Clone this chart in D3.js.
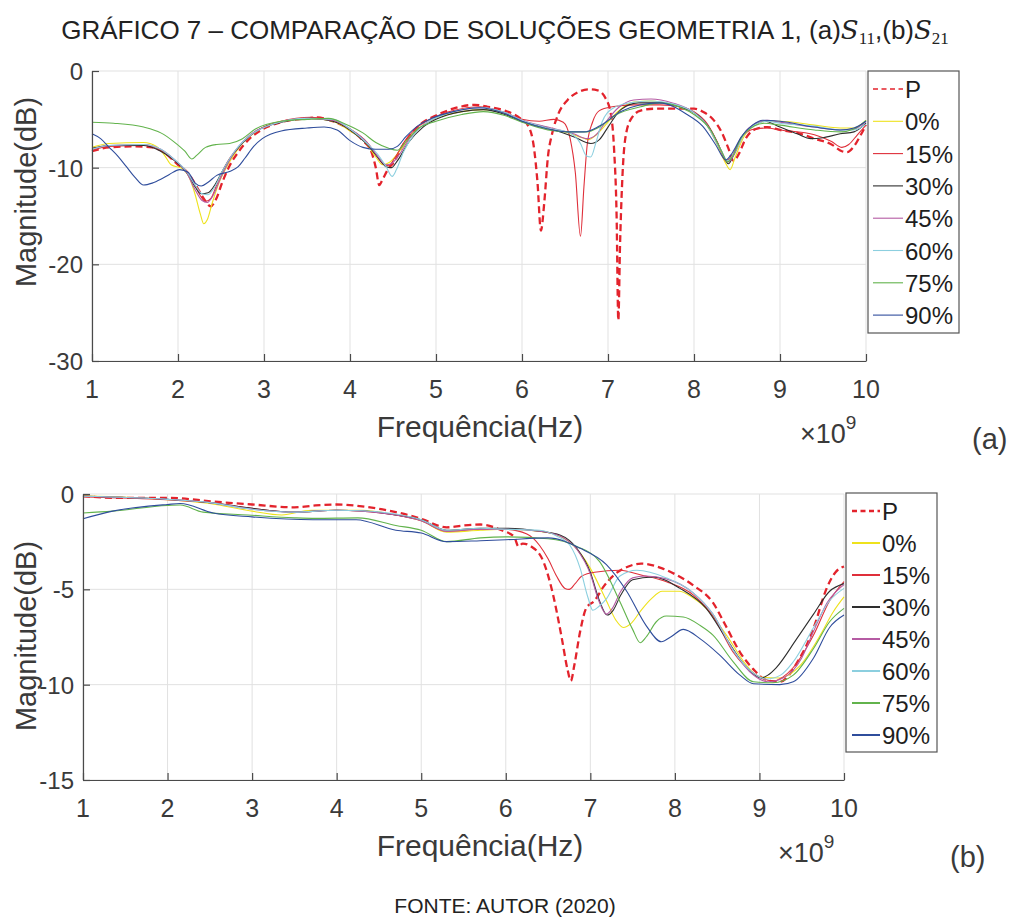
<!DOCTYPE html>
<html>
<head>
<meta charset="utf-8">
<script src="https://cdn.jsdelivr.net/npm/d3@7"></script>
<style>
  body { margin: 0; background: #fff; }
  svg { display: block; }
  text { font-family: "Liberation Sans", Arial, Helvetica, sans-serif; }
</style>
</head>
<body>
<svg id="fig" width="1011" height="922"></svg>
<script>
// Axis ticks
const freqTicks = [1, 2, 3, 4, 5, 6, 7, 8, 9, 10];   // GHz (x 10^9 Hz)
const s11Ticks = [0, -10, -20, -30];
const s21Ticks = [0, -5, -10, -15];

// Legend entries and line colours
const legendLabels = ["P", "0%", "15%", "30%", "45%", "60%", "75%", "90%"];
const lineColors = ["#e3232c", "#eee21c", "#df2f3a", "#2e2e2e", "#b55ba3", "#8ccfdf", "#62b34c", "#2f4d9c"];

// ---- (a) S11 magnitude, [frequency GHz, dB] ----
const s11P = [[1.0,-8.3],[1.2,-7.9],[1.5,-7.8],[1.7,-7.9],[1.85,-8.5],[2.0,-9.7],[2.12,-10.6],[2.22,-12.0],[2.3,-13.2],[2.38,-14.0],[2.44,-13.3],[2.52,-11.4],[2.6,-9.8],[2.7,-8.4],[2.82,-7.1],[2.95,-6.2],[3.2,-5.3],[3.5,-4.9],[3.62,-4.8],[3.8,-5.2],[4.0,-6.1],[4.15,-7.2],[4.25,-8.4],[4.3,-10.0],[4.34,-11.8],[4.38,-11.2],[4.44,-10.2],[4.52,-9.3],[4.6,-7.9],[4.72,-6.4],[4.85,-5.3],[5.0,-4.6],[5.2,-3.9],[5.45,-3.5],[5.6,-3.7],[5.8,-4.1],[5.98,-4.9],[6.08,-5.8],[6.14,-8.0],[6.18,-11.5],[6.22,-16.5],[6.26,-13.5],[6.3,-9.0],[6.35,-6.5],[6.42,-4.5],[6.53,-3.0],[6.65,-2.2],[6.78,-1.9],[6.88,-2.0],[6.97,-2.8],[7.03,-4.3],[7.07,-8.0],[7.1,-15.0],[7.12,-25.8],[7.14,-18.0],[7.17,-10.5],[7.21,-6.5],[7.28,-4.8],[7.38,-4.1],[7.55,-3.9],[8.0,-3.9],[8.12,-4.3],[8.22,-5.0],[8.32,-6.3],[8.4,-8.0],[8.46,-9.3],[8.52,-8.6],[8.6,-7.0],[8.72,-6.0],[8.85,-5.8],[9.0,-6.1],[9.2,-6.4],[9.4,-7.0],[9.6,-7.6],[9.72,-8.3],[9.78,-8.4],[9.86,-7.8],[9.94,-6.6],[10.0,-5.6]];
const s11_0 = [[1.0,-7.9],[1.2,-7.5],[1.6,-7.4],[1.75,-7.8],[1.85,-8.8],[1.92,-9.7],[2.05,-10.1],[2.14,-11.2],[2.2,-12.8],[2.26,-14.8],[2.3,-15.8],[2.34,-15.4],[2.4,-13.6],[2.48,-11.5],[2.58,-9.7],[2.72,-7.8],[2.9,-6.3],[3.2,-5.2],[3.55,-4.9],[3.8,-5.2],[4.0,-6.2],[4.2,-7.6],[4.3,-8.9],[4.38,-9.7],[4.45,-9.5],[4.55,-8.6],[4.7,-6.8],[4.85,-5.6],[5.0,-4.9],[5.3,-4.2],[5.55,-4.0],[5.8,-4.4],[6.0,-5.2],[6.25,-5.9],[6.5,-6.3],[6.7,-6.9],[6.78,-7.1],[6.85,-6.7],[6.95,-5.8],[7.1,-4.3],[7.3,-3.2],[7.5,-3.1],[7.75,-3.5],[8.0,-4.3],[8.15,-5.6],[8.28,-7.8],[8.36,-9.4],[8.42,-10.2],[8.48,-8.9],[8.58,-6.8],[8.7,-5.6],[8.85,-5.2],[9.0,-5.2],[9.4,-5.6],[9.7,-5.9],[9.85,-5.9],[10.0,-5.1]];
const s11_15 = [[1.0,-8.2],[1.2,-7.8],[1.6,-7.7],[1.8,-8.2],[1.95,-9.2],[2.08,-10.2],[2.18,-11.5],[2.26,-12.9],[2.32,-13.5],[2.38,-13.2],[2.45,-11.8],[2.55,-9.8],[2.7,-7.9],[2.9,-6.3],[3.2,-5.2],[3.55,-4.8],[3.8,-5.1],[4.0,-6.0],[4.2,-7.4],[4.3,-8.6],[4.38,-9.6],[4.45,-9.8],[4.52,-9.0],[4.65,-7.1],[4.8,-5.7],[5.0,-4.7],[5.3,-3.9],[5.5,-3.7],[5.8,-4.3],[6.0,-5.0],[6.2,-5.2],[6.37,-5.0],[6.48,-5.3],[6.56,-7.0],[6.62,-10.5],[6.68,-17.1],[6.72,-12.0],[6.76,-7.5],[6.82,-5.3],[6.9,-4.1],[7.05,-3.7],[7.3,-3.5],[7.6,-3.5],[7.85,-3.7],[8.0,-4.2],[8.15,-5.4],[8.28,-7.5],[8.37,-9.3],[8.44,-8.8],[8.55,-6.9],[8.7,-6.0],[8.85,-5.9],[9.0,-6.1],[9.4,-6.6],[9.6,-7.3],[9.72,-7.9],[9.8,-7.6],[9.9,-6.6],[10.0,-5.6]];
const s11_30 = [[1.0,-8.0],[1.2,-7.7],[1.6,-7.7],[1.8,-8.3],[1.95,-9.2],[2.1,-10.5],[2.2,-12.0],[2.27,-12.7],[2.35,-12.6],[2.42,-11.9],[2.52,-10.3],[2.65,-8.5],[2.85,-6.6],[3.2,-5.3],[3.55,-4.9],[3.8,-5.2],[4.0,-6.1],[4.2,-7.6],[4.32,-8.9],[4.42,-9.9],[4.48,-10.0],[4.55,-9.3],[4.68,-7.4],[4.85,-5.8],[5.0,-5.0],[5.3,-4.2],[5.55,-4.0],[5.8,-4.5],[6.0,-5.2],[6.3,-5.9],[6.6,-6.8],[6.8,-7.5],[6.9,-7.1],[7.0,-5.8],[7.15,-4.0],[7.35,-3.3],[7.6,-3.3],[7.9,-3.9],[8.05,-4.6],[8.2,-6.2],[8.32,-8.3],[8.4,-9.6],[8.46,-8.7],[8.55,-6.9],[8.7,-5.6],[8.82,-5.2],[9.0,-5.8],[9.2,-6.5],[9.36,-7.0],[9.5,-6.9],[9.7,-6.5],[9.86,-6.3],[10.0,-5.4]];
const s11_45 = [[1.0,-8.1],[1.2,-7.7],[1.6,-7.6],[1.8,-8.1],[1.95,-9.1],[2.1,-10.5],[2.2,-12.3],[2.28,-13.4],[2.34,-13.6],[2.4,-13.0],[2.5,-11.0],[2.62,-8.9],[2.8,-6.9],[3.1,-5.5],[3.5,-4.9],[3.8,-5.1],[4.0,-6.0],[4.2,-7.4],[4.32,-8.8],[4.42,-9.7],[4.48,-9.6],[4.56,-8.8],[4.7,-6.9],[4.85,-5.6],[5.0,-4.8],[5.3,-4.0],[5.55,-3.8],[5.8,-4.3],[6.0,-5.1],[6.3,-5.8],[6.6,-6.5],[6.76,-7.0],[6.86,-6.6],[6.98,-5.2],[7.12,-3.8],[7.3,-3.0],[7.5,-2.9],[7.75,-3.3],[8.0,-4.3],[8.15,-5.6],[8.3,-8.0],[8.4,-9.4],[8.47,-8.6],[8.58,-6.5],[8.72,-5.4],[8.85,-5.1],[9.0,-5.3],[9.4,-5.8],[9.7,-6.1],[9.86,-6.0],[10.0,-5.2]];
const s11_60 = [[1.0,-8.1],[1.2,-7.7],[1.6,-7.6],[1.8,-8.1],[1.95,-9.1],[2.1,-10.4],[2.2,-11.8],[2.28,-12.7],[2.35,-12.8],[2.42,-12.1],[2.52,-10.3],[2.65,-8.4],[2.85,-6.6],[3.1,-5.5],[3.5,-4.9],[3.8,-5.0],[4.0,-6.0],[4.2,-7.5],[4.32,-8.6],[4.42,-9.9],[4.49,-10.9],[4.54,-10.2],[4.62,-8.4],[4.75,-6.5],[4.9,-5.3],[5.1,-4.5],[5.35,-3.9],[5.55,-3.8],[5.8,-4.3],[6.0,-5.1],[6.3,-5.9],[6.55,-6.4],[6.68,-7.5],[6.75,-8.8],[6.8,-8.9],[6.86,-7.4],[6.93,-5.3],[7.05,-3.9],[7.25,-3.3],[7.5,-3.1],[7.75,-3.4],[8.0,-4.3],[8.15,-5.6],[8.3,-8.0],[8.39,-9.3],[8.46,-8.6],[8.58,-6.6],[8.72,-5.5],[8.85,-5.2],[9.0,-5.4],[9.4,-5.7],[9.7,-6.1],[9.86,-6.1],[10.0,-5.5]];
const s11_75 = [[1.0,-5.3],[1.25,-5.4],[1.6,-5.8],[1.8,-6.4],[1.95,-7.3],[2.08,-8.3],[2.16,-9.1],[2.22,-8.7],[2.32,-7.9],[2.45,-7.6],[2.6,-7.5],[2.75,-7.0],[2.9,-6.0],[3.2,-5.2],[3.5,-5.0],[3.75,-4.9],[3.95,-5.5],[4.15,-6.4],[4.3,-7.4],[4.45,-8.0],[4.55,-8.2],[4.65,-7.3],[4.8,-5.9],[5.0,-5.2],[5.3,-4.5],[5.55,-4.2],[5.8,-4.6],[6.0,-5.3],[6.3,-6.1],[6.55,-6.3],[6.75,-6.3],[6.9,-5.8],[7.1,-4.5],[7.38,-3.7],[7.6,-3.3],[7.85,-3.8],[8.0,-4.5],[8.2,-6.2],[8.32,-8.3],[8.39,-9.4],[8.45,-8.8],[8.55,-6.9],[8.7,-5.7],[8.82,-5.4],[9.0,-5.6],[9.4,-6.1],[9.7,-6.3],[9.86,-6.0],[10.0,-5.1]];
const s11_90 = [[1.0,-6.5],[1.1,-7.0],[1.2,-7.9],[1.3,-8.8],[1.4,-9.9],[1.5,-11.0],[1.6,-11.8],[1.7,-11.6],[1.8,-11.2],[1.9,-10.7],[2.02,-10.2],[2.12,-10.5],[2.2,-11.6],[2.27,-11.9],[2.35,-11.5],[2.45,-10.8],[2.6,-10.4],[2.7,-9.9],[2.78,-9.0],[2.88,-7.8],[2.98,-7.0],[3.2,-6.2],[3.5,-5.9],[3.7,-5.8],[3.85,-6.1],[4.0,-7.2],[4.15,-7.9],[4.3,-8.1],[4.45,-8.1],[4.55,-7.8],[4.65,-6.8],[4.8,-5.6],[4.95,-4.9],[5.2,-4.2],[5.5,-3.8],[5.8,-4.4],[6.0,-5.2],[6.3,-6.0],[6.55,-6.3],[6.72,-6.3],[6.9,-5.7],[7.15,-4.2],[7.38,-3.5],[7.6,-3.3],[7.92,-4.5],[8.1,-5.7],[8.25,-7.6],[8.37,-9.2],[8.45,-8.4],[8.55,-6.8],[8.68,-5.6],[8.8,-5.1],[9.0,-5.2],[9.4,-5.8],[9.7,-6.1],[9.86,-5.9],[10.0,-5.2]];

// ---- (b) S21 magnitude, [frequency GHz, dB] ----
const s21P = [[1.0,-0.1],[1.35,-0.2],[2.0,-0.2],[2.55,-0.4],[3.0,-0.55],[3.5,-0.7],[3.75,-0.6],[4.0,-0.55],[4.3,-0.65],[4.7,-0.95],[5.0,-1.3],[5.3,-1.75],[5.5,-1.65],[5.7,-1.6],[5.95,-1.9],[6.1,-2.25],[6.15,-2.75],[6.2,-2.6],[6.3,-2.75],[6.45,-3.6],[6.56,-5.3],[6.66,-7.5],[6.73,-9.2],[6.77,-9.8],[6.81,-9.0],[6.88,-7.2],[6.95,-6.0],[7.05,-5.6],[7.15,-4.9],[7.28,-4.25],[7.45,-3.8],[7.6,-3.65],[7.85,-3.9],[8.0,-4.2],[8.22,-4.8],[8.45,-5.7],[8.6,-6.9],[8.77,-8.3],[8.93,-9.2],[9.08,-9.75],[9.24,-9.85],[9.35,-9.5],[9.45,-8.8],[9.55,-8.0],[9.65,-6.9],[9.79,-5.0],[9.9,-4.1],[10.0,-3.8]];
const s21_0 = [[1.0,-0.1],[2.0,-0.3],[2.5,-0.5],[3.0,-0.9],[3.35,-1.1],[3.7,-0.85],[4.3,-0.85],[4.7,-1.1],[5.0,-1.4],[5.3,-2.0],[5.7,-1.9],[6.0,-1.85],[6.48,-2.0],[6.8,-2.7],[7.0,-3.9],[7.19,-5.6],[7.3,-6.6],[7.39,-7.0],[7.48,-6.8],[7.6,-6.1],[7.72,-5.5],[7.85,-5.1],[8.05,-5.1],[8.2,-5.4],[8.37,-6.0],[8.61,-7.4],[8.85,-9.0],[9.0,-9.6],[9.24,-9.65],[9.48,-9.0],[9.72,-7.4],[9.87,-6.2],[10.0,-5.4]];
const s21_15 = [[1.0,-0.15],[2.0,-0.3],[2.5,-0.45],[3.0,-0.75],[3.5,-0.95],[4.0,-0.85],[4.3,-0.9],[4.7,-1.1],[5.0,-1.4],[5.3,-1.95],[5.7,-1.85],[6.0,-1.85],[6.25,-2.1],[6.4,-2.7],[6.5,-3.4],[6.6,-4.3],[6.7,-4.95],[6.75,-5.0],[6.82,-4.7],[6.9,-4.3],[7.05,-4.1],[7.35,-4.0],[7.6,-4.25],[7.9,-4.6],[8.22,-5.3],[8.45,-6.4],[8.69,-8.3],[8.93,-9.4],[9.16,-9.8],[9.4,-9.1],[9.64,-7.4],[9.83,-5.6],[10.0,-4.6]];
const s21_30 = [[1.0,-0.12],[2.0,-0.28],[2.5,-0.45],[3.0,-0.75],[3.5,-0.95],[4.0,-0.85],[4.3,-0.88],[4.7,-1.1],[5.0,-1.35],[5.3,-1.9],[5.7,-1.8],[6.0,-1.8],[6.4,-1.95],[6.64,-2.15],[6.84,-2.85],[7.0,-4.1],[7.1,-5.5],[7.2,-6.35],[7.27,-6.1],[7.36,-5.3],[7.5,-4.5],[7.74,-4.35],[8.06,-4.95],[8.37,-6.0],[8.61,-7.6],[8.85,-9.1],[9.02,-9.65],[9.1,-9.5],[9.2,-9.1],[9.44,-7.6],[9.64,-6.3],[9.83,-5.1],[10.0,-4.7]];
const s21_45 = [[1.0,-0.12],[2.0,-0.28],[2.5,-0.45],[3.0,-0.8],[3.5,-0.95],[4.0,-0.85],[4.3,-0.9],[4.7,-1.1],[5.0,-1.4],[5.3,-1.95],[5.7,-1.85],[6.0,-1.85],[6.4,-1.95],[6.64,-2.2],[6.84,-2.9],[7.0,-4.2],[7.1,-5.6],[7.19,-6.3],[7.26,-6.0],[7.36,-5.1],[7.5,-4.4],[7.65,-4.3],[7.9,-4.45],[8.22,-5.2],[8.45,-6.3],[8.69,-8.2],[8.93,-9.5],[9.1,-9.85],[9.3,-9.6],[9.5,-8.6],[9.64,-7.2],[9.8,-5.7],[10.0,-4.75]];
const s21_60 = [[1.0,-0.12],[2.0,-0.28],[2.5,-0.45],[3.0,-0.8],[3.5,-0.95],[4.0,-0.85],[4.3,-0.88],[4.7,-1.05],[5.0,-1.35],[5.3,-1.9],[5.7,-1.8],[6.0,-1.85],[6.4,-1.9],[6.6,-2.2],[6.76,-2.7],[6.88,-3.9],[6.97,-5.4],[7.03,-6.1],[7.1,-5.9],[7.19,-5.5],[7.35,-4.3],[7.55,-4.0],[7.9,-4.4],[8.22,-5.2],[8.45,-6.3],[8.69,-8.2],[8.93,-9.4],[9.08,-9.7],[9.25,-9.5],[9.4,-8.8],[9.64,-7.0],[9.83,-5.6],[10.0,-4.95]];
const s21_75 = [[1.0,-1.0],[1.35,-0.9],[2.0,-0.6],[2.15,-0.58],[2.42,-0.95],[2.95,-1.1],[3.5,-1.25],[3.75,-1.28],[4.25,-1.25],[4.7,-1.65],[5.0,-1.9],[5.3,-2.5],[5.7,-2.3],[6.0,-2.25],[6.5,-2.35],[6.84,-2.75],[7.11,-3.55],[7.35,-5.65],[7.5,-7.1],[7.59,-7.8],[7.66,-7.5],[7.78,-6.7],[7.9,-6.4],[8.1,-6.45],[8.3,-6.9],[8.45,-7.4],[8.69,-8.8],[8.93,-9.85],[9.16,-9.9],[9.4,-9.5],[9.64,-8.1],[9.83,-6.7],[10.0,-6.0]];
const s21_90 = [[1.0,-1.3],[1.35,-0.9],[2.0,-0.55],[2.15,-0.5],[2.54,-1.0],[3.0,-1.2],[3.72,-1.35],[4.23,-1.35],[4.7,-1.9],[5.0,-2.05],[5.3,-2.5],[5.7,-2.45],[6.0,-2.4],[6.5,-2.3],[6.88,-2.85],[7.19,-3.7],[7.43,-5.1],[7.66,-6.9],[7.84,-7.75],[7.95,-7.5],[8.1,-7.1],[8.3,-7.6],[8.53,-8.45],[8.77,-9.5],[8.93,-9.95],[9.24,-10.0],[9.4,-9.85],[9.64,-8.6],[9.83,-7.0],[10.0,-6.35]];

const s11Series = [s11P, s11_0, s11_15, s11_30, s11_45, s11_60, s11_75, s11_90];
const s21Series = [s21P, s21_0, s21_15, s21_30, s21_45, s21_60, s21_75, s21_90];

const svg = d3.select("#fig");
const AXIS_COLOR = "#4a4a4a";
const GRID_COLOR = "#e1e1e1";
const TEXT_COLOR = "#3a3a3a";

// Title
const title = svg.append("text")
  .attr("x", 505).attr("y", 39)
  .attr("text-anchor", "middle")
  .attr("font-size", 26)
  .attr("fill", "#222");
title.append("tspan").text("GRÁFICO 7 – COMPARAÇÃO DE SOLUÇÕES GEOMETRIA 1, (a)");
title.append("tspan").attr("font-family", "'DejaVu Serif', 'Liberation Serif', serif").attr("font-style", "italic").text("S");
title.append("tspan").attr("font-family", "'Liberation Serif', serif").attr("font-size", 17).attr("dy", 5).text("11");
title.append("tspan").attr("dy", -5).text(",(b)");
title.append("tspan").attr("font-family", "'DejaVu Serif', 'Liberation Serif', serif").attr("font-style", "italic").text("S");
title.append("tspan").attr("font-family", "'Liberation Serif', serif").attr("font-size", 17).attr("dy", 5).text("21");

function drawPanel(cfg) {
  const x = d3.scaleLinear().domain([1, 10]).range([cfg.left, cfg.right]);
  const y = d3.scaleLinear().domain([cfg.yTicks[cfg.yTicks.length - 1], 0]).range([cfg.bottom, cfg.top]);
  const g = svg.append("g");

  // grid
  g.append("g").selectAll("line").data(freqTicks).join("line")
    .attr("x1", d => x(d)).attr("x2", d => x(d))
    .attr("y1", cfg.top).attr("y2", cfg.bottom)
    .attr("stroke", GRID_COLOR).attr("stroke-width", 1);
  g.append("g").selectAll("line").data(cfg.yTicks).join("line")
    .attr("x1", cfg.left).attr("x2", cfg.right)
    .attr("y1", d => y(d)).attr("y2", d => y(d))
    .attr("stroke", GRID_COLOR).attr("stroke-width", 1);

  // curves
  const line = d3.line().x(d => x(d[0])).y(d => y(d[1])).curve(d3.curveMonotoneX);
  const curves = g.append("g");
  cfg.series.forEach((s, i) => {
    curves.append("path")
      .attr("d", line(s))
      .attr("fill", "none")
      .attr("stroke", lineColors[i])
      .attr("stroke-width", i === 0 ? 2.3 : 1.1)
      .attr("stroke-dasharray", i === 0 ? "7,4" : null)
      .attr("stroke-linejoin", "round");
  });

  // axes (ticks point inward)
  const xAxis = g.append("g").attr("transform", `translate(0,${cfg.bottom})`)
    .call(d3.axisBottom(x).tickValues(freqTicks).tickSizeInner(-7).tickSizeOuter(0).tickFormat(""));
  const yAxis = g.append("g").attr("transform", `translate(${cfg.left},0)`)
    .call(d3.axisLeft(y).tickValues(cfg.yTicks).tickSizeInner(-7).tickSizeOuter(0).tickFormat(""));
  [xAxis, yAxis].forEach(a => {
    a.select(".domain").attr("stroke", AXIS_COLOR).attr("stroke-width", 1.2);
    a.selectAll(".tick line").attr("stroke", AXIS_COLOR).attr("stroke-width", 1.2);
  });

  // tick labels
  g.append("g").selectAll("text").data(freqTicks).join("text")
    .attr("x", d => x(d)).attr("y", cfg.bottom + 37)
    .attr("text-anchor", "middle").attr("font-size", 25).attr("fill", TEXT_COLOR)
    .text(d => d);
  g.append("g").selectAll("text").data(cfg.yTicks).join("text")
    .attr("x", cfg.left - 9).attr("y", d => y(d) + 9)
    .attr("text-anchor", "end").attr("font-size", 24).attr("fill", TEXT_COLOR)
    .text(d => d);

  // axis titles
  g.append("text")
    .attr("transform", `translate(${cfg.yTitleX},${cfg.yTitleY}) rotate(-90)`)
    .attr("text-anchor", "middle").attr("font-size", 29).attr("fill", TEXT_COLOR)
    .text("Magnitude(dB)");
  g.append("text")
    .attr("x", 480).attr("y", cfg.bottom + 76)
    .attr("text-anchor", "middle").attr("font-size", 30).attr("fill", TEXT_COLOR)
    .text("Frequência(Hz)");
  const scaleNote = g.append("text")
    .attr("x", cfg.right - 66).attr("y", cfg.bottom + 82)
    .attr("font-size", 27).attr("fill", TEXT_COLOR);
  scaleNote.append("tspan").text("×10");
  scaleNote.append("tspan").attr("font-size", 19).attr("dy", -14).text("9");
  g.append("text")
    .attr("x", cfg.tagX).attr("y", cfg.tagY)
    .attr("font-size", 29).attr("fill", TEXT_COLOR)
    .text(cfg.tag);

  // legend
  const L = cfg.legend;
  const lg = g.append("g").attr("transform", `translate(${L.x},${L.y})`);
  lg.append("rect")
    .attr("x", 0).attr("y", 0)
    .attr("width", L.w).attr("height", L.h)
    .attr("fill", "#fff").attr("stroke", "#555").attr("stroke-width", 1.2);
  const rows = lg.selectAll("g.row").data(legendLabels).join("g").attr("class", "row")
    .attr("transform", (d, i) => `translate(0,${L.row0 + i * L.step})`);
  rows.append("line")
    .attr("x1", L.lineX0).attr("x2", L.lineX1)
    .attr("y1", 0).attr("y2", 0)
    .attr("stroke", (d, i) => lineColors[i])
    .attr("stroke-width", (d, i) => i === 0 ? L.lw + 0.3 : L.lw)
    .attr("stroke-dasharray", (d, i) => i === 0 ? "5,3.5" : null);
  rows.append("text")
    .attr("x", L.textX).attr("y", 9)
    .attr("font-size", 24).attr("fill", "#1e1e1e")
    .text(d => d);
}

drawPanel({
  left: 92, right: 866, top: 71, bottom: 361,
  yTicks: s11Ticks, series: s11Series,
  yTitleX: 36, yTitleY: 192,
  tag: "(a)", tagX: 972, tagY: 449,
  legend: { x: 868, y: 71, w: 91, h: 262, row0: 18, step: 32.3, lineX0: 5, lineX1: 35, textX: 37, lw: 1.1 }
});

drawPanel({
  left: 83, right: 844, top: 494, bottom: 780,
  yTicks: s21Ticks, series: s21Series,
  yTitleX: 36, yTitleY: 636,
  tag: "(b)", tagX: 950, tagY: 867,
  legend: { x: 846, y: 493, w: 91, h: 259, row0: 18, step: 32, lineX0: 6, lineX1: 34, textX: 36, lw: 2 }
});

// Source note
svg.append("text")
  .attr("x", 505).attr("y", 913)
  .attr("text-anchor", "middle")
  .attr("font-size", 21).attr("fill", "#222")
  .text("FONTE: AUTOR (2020)");
</script>
</body>
</html>
